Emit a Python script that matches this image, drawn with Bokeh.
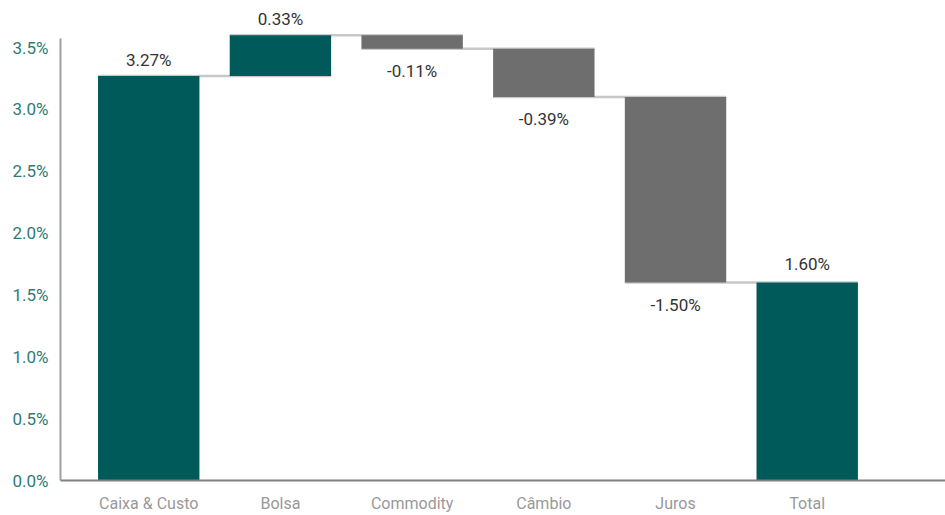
from bokeh.plotting import figure
from bokeh.models import Range1d, FixedTicker, ColumnDataSource
from bokeh.core.properties import value
from bokeh.embed import file_html
from bokeh.resources import INLINE

categories = ["Caixa & Custo", "Bolsa", "Commodity", "Câmbio", "Juros", "Total"]
contributions = [3.27, 0.33, -0.11, -0.39, -1.50]
total_value = 1.60
y_ticks = [0.0, 0.5, 1.0, 1.5, 2.0, 2.5, 3.0, 3.5]

TEAL = "#005A5A"
GRAY = "#6E6E6E"
CONN = "#C8C8C8"
FONT = "Roboto"
W = 0.77

# build waterfall geometry from data
xs, bottoms, tops, colors, labels, label_y, offsets = [], [], [], [], [], [], []
ends = []
running = 0.0
for i, v in enumerate(contributions):
    start = running
    end = running + v
    running = end
    ends.append(end)
    xs.append(i)
    bottoms.append(min(start, end))
    tops.append(max(start, end))
    colors.append(TEAL if v >= 0 else GRAY)
    labels.append(f"{v:.2f}%")
    if v >= 0:
        label_y.append(max(start, end)); offsets.append(-16)
    else:
        label_y.append(min(start, end)); offsets.append(22)
# total bar
xs.append(len(contributions))
bottoms.append(0.0)
tops.append(total_value)
colors.append(TEAL)
labels.append(f"{total_value:.2f}%")
label_y.append(total_value); offsets.append(-19)

bars = ColumnDataSource(dict(x=xs, bottom=bottoms, top=tops, color=colors))
lab = ColumnDataSource(dict(x=xs, y=label_y, text=labels, off=offsets))
conn = ColumnDataSource(dict(
    x0=[i - W / 2 for i in range(len(contributions))],
    x1=[i + 1 + W / 2 for i in range(len(contributions))],
    y=ends,
))

p = figure(width=945, height=515, output_backend="svg", toolbar_location=None,
           x_range=Range1d(-0.67, 6.05), y_range=Range1d(0, 3.88),
           min_border_left=60, min_border_right=0, min_border_top=0, min_border_bottom=34)
p.outline_line_color = None
p.xgrid.grid_line_color = None
p.ygrid.grid_line_color = None

p.segment(x0="x0", x1="x1", y0="y", y1="y", source=conn, line_color=CONN, line_width=2.5)
p.vbar(x="x", bottom="bottom", top="top", width=W, color="color", source=bars, line_color=None)
p.text(x="x", y="y", text="text", y_offset="off", source=lab, text_align="center",
       text_baseline="middle", text_font=value(FONT), text_font_size="17px", text_color="#333333")

for ax in (p.xaxis, p.yaxis):
    ax.major_tick_line_color = None
    ax.minor_tick_line_color = None
    ax.major_tick_out = 0
    ax.major_tick_in = 0
    ax.minor_tick_out = 0
    ax.minor_tick_in = 0
    ax.axis_label_standoff = 0
    ax.major_label_text_font = FONT
    ax.major_label_text_font_size = "17px"

p.xaxis.ticker = FixedTicker(ticks=list(range(len(categories))))
p.xaxis.major_label_overrides = {i: c for i, c in enumerate(categories)}
p.xaxis.axis_line_color = "#808080"
p.xaxis.axis_line_width = 2
p.xaxis.major_label_text_color = "#999999"
p.xaxis.major_label_text_font_size = "16px"
p.xaxis.major_label_standoff = 13

p.yaxis.ticker = FixedTicker(ticks=y_ticks)
p.yaxis.major_label_overrides = {t: f"{t:.1f}%" for t in y_ticks}
p.yaxis.axis_line_color = "#A0A0A0"
p.yaxis.axis_line_width = 2
p.yaxis.bounds = (0, 3.57)
p.yaxis.major_label_text_color = "#2E7A76"
p.yaxis.major_label_standoff = 12

open("out.html", "w").write(file_html(p, INLINE))
